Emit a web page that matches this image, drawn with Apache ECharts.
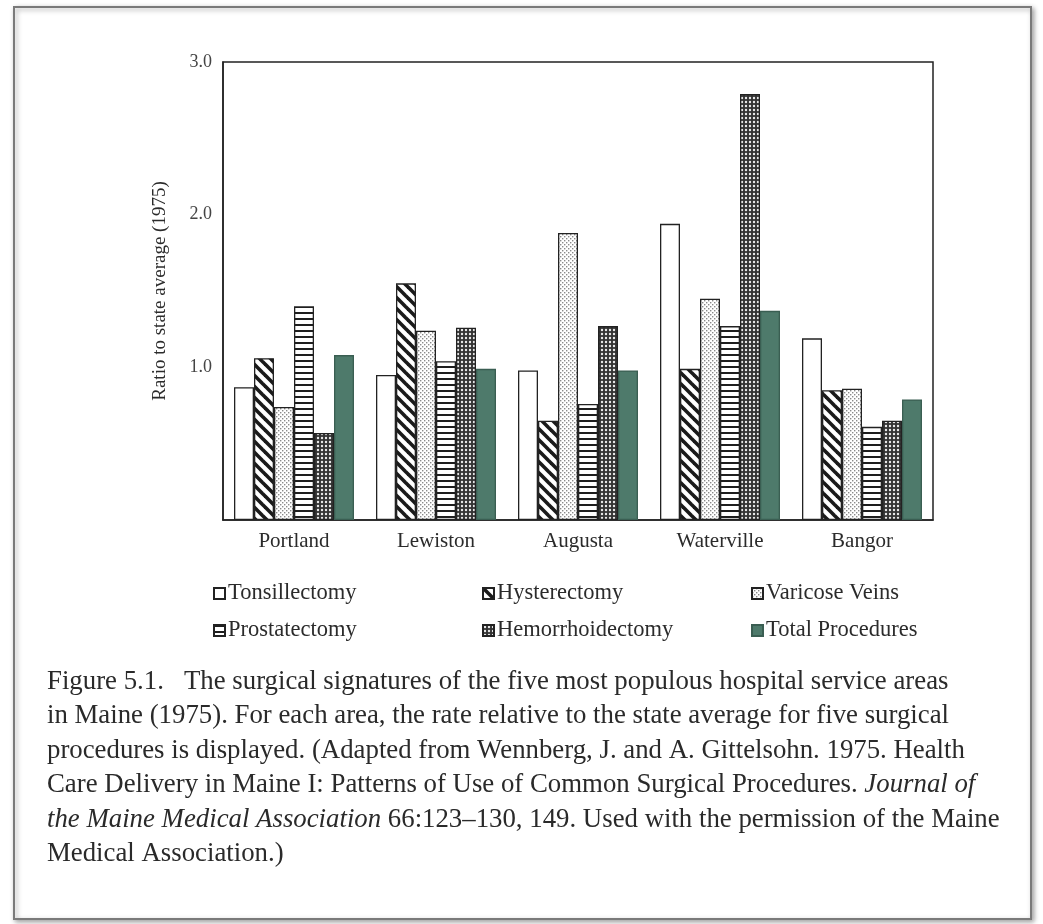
<!DOCTYPE html>
<html>
<head>
<meta charset="utf-8">
<script src="https://cdn.jsdelivr.net/npm/echarts@6/dist/echarts.min.js"></script>
<style>
html,body{margin:0;padding:0;background:#fff;}
#chart{width:1043px;height:924px;}
</style>
</head>
<body>
<div id="chart"></div>
<script>
// ---- Data ----
const categories = ['Portland', 'Lewiston', 'Augusta', 'Waterville', 'Bangor'];
const seriesNames = ['Tonsillectomy', 'Hysterectomy', 'Varicose Veins', 'Prostatectomy', 'Hemorrhoidectomy', 'Total Procedures'];
const tonsillectomy    = [0.87, 0.95, 0.98, 1.94, 1.19];
const hysterectomy     = [1.06, 1.55, 0.65, 0.99, 0.85];
const varicoseVeins    = [0.74, 1.24, 1.88, 1.45, 0.86];
const prostatectomy    = [1.40, 1.04, 0.76, 1.27, 0.61];
const hemorrhoidectomy = [0.57, 1.26, 1.27, 2.79, 0.65];
const totalProcedures  = [1.08, 0.99, 0.98, 1.37, 0.79];
const yTicks = [0, 1, 2, 3];
const yAxisTitle = 'Ratio to state average (1975)';
const captionLines = [
  'Figure 5.1.   The surgical signatures of the five most populous hospital service areas',
  'in Maine (1975). For each area, the rate relative to the state average for five surgical',
  'procedures is displayed. (Adapted from Wennberg, J. and A. Gittelsohn. 1975. Health',
  'Care Delivery in Maine I: Patterns of Use of Common Surgical Procedures. {i|Journal of}',
  '{i|the Maine Medical Association} 66:123–130, 149. Used with the permission of the Maine',
  'Medical Association.)'
];

// ---- Patterns ----
function makeTile(w, h, draw) {
  const c = document.createElement('canvas');
  c.width = w; c.height = h;
  const ctx = c.getContext('2d');
  ctx.fillStyle = '#fff';
  ctx.fillRect(0, 0, w, h);
  draw(ctx, w, h);
  return c;
}
const pWhite = '#ffffff';
const pDiag = makeTile(11, 11, (ctx, w) => {
  ctx.strokeStyle = '#1a1a1a'; ctx.lineWidth = 3.6;
  for (let k = -1; k <= 1; k++) {
    ctx.beginPath(); ctx.moveTo(k * w - 2, -2); ctx.lineTo(k * w + w + 2, w + 2); ctx.stroke();
  }
});
const pDots = makeTile(4, 4, (ctx) => {
  ctx.fillStyle = '#8a8a8a';
  ctx.fillRect(0, 0, 1.4, 1.4);
  ctx.fillRect(2, 2, 1.4, 1.4);
});
const pHoriz = makeTile(6, 6, (ctx) => {
  ctx.fillStyle = '#1e1e1e';
  ctx.fillRect(0, 0, 6, 2);
});
const pCheck = makeTile(4, 4, (ctx) => {
  ctx.fillStyle = '#333';
  ctx.fillRect(0, 0, 4, 4);
  ctx.fillStyle = '#eaeaea';
  ctx.beginPath(); ctx.arc(2, 2, 1.2, 0, Math.PI * 2); ctx.fill();
});
const fills = [
  pWhite,
  {image: pDiag, repeat: 'repeat'},
  {image: pDots, repeat: 'repeat'},
  {image: pHoriz, repeat: 'repeat'},
  {image: pCheck, repeat: 'repeat'},
  '#4e7a6b'
];
const values = [tonsillectomy, hysterectomy, varicoseVeins, prostatectomy, hemorrhoidectomy, totalProcedures];

const serif = '"Liberation Serif", "DejaVu Serif", serif';
const textColor = '#2b2b2b';

const chart = echarts.init(document.getElementById('chart'), null, {renderer: 'canvas'});

const series = seriesNames.map((name, i) => ({
  name: name,
  type: 'bar',
  data: values[i],
  barWidth: 20,
  barGap: '0%',
  itemStyle: {
    color: fills[i],
    borderColor: i === 5 ? '#3a5e52' : '#222',
    borderWidth: 1.3
  },
  emphasis: {disabled: true}
}));

function legendCol(left, names) {
  return {
    orient: 'vertical',
    left: left,
    top: 582,
    padding: 0,
    itemWidth: 11,
    itemHeight: 11,
    itemGap: 14,
    icon: 'rect',
    selectedMode: false,
    data: names,
    textStyle: {fontFamily: serif, fontSize: 22.5, color: textColor, padding: [0, 0, 0, -2]}
  };
}

const graphics = [
  {
    type: 'rect', left: 13, top: 6, z: -10, silent: true,
    shape: {width: 1017, height: 912},
    style: {fill: '#fff', stroke: '#7a7a7a', lineWidth: 2,
      shadowBlur: 5, shadowOffsetX: 2, shadowOffsetY: 2, shadowColor: 'rgba(0,0,0,0.35)'}
  }
];
captionLines.forEach((line, i) => {
  graphics.push({
    type: 'text', left: 47, top: 668 + i * 34.5, silent: true,
    style: {
      text: line,
      font: '26.8px ' + serif,
      fill: '#2a2a2a',
      rich: {i: {fontStyle: 'italic', fontSize: 26.8, fontFamily: serif, fill: '#2a2a2a'}}
    }
  });
});

chart.setOption({
  backgroundColor: '#ffffff',
  animation: false,
  grid: {left: 223, top: 62, width: 710, height: 458, show: true, borderColor: '#222', borderWidth: 1.5},
  legend: [
    legendCol(213, [seriesNames[0], seriesNames[3]]),
    legendCol(482, [seriesNames[1], seriesNames[4]]),
    legendCol(751, [seriesNames[2], seriesNames[5]])
  ],
  xAxis: {
    type: 'category',
    data: categories,
    axisLine: {show: true, lineStyle: {color: '#222', width: 1.5}},
    axisTick: {show: false},
    axisLabel: {fontFamily: serif, fontSize: 21, color: textColor, margin: 11}
  },
  yAxis: {
    type: 'value',
    min: yTicks[0],
    max: yTicks[yTicks.length - 1],
    interval: 1,
    name: yAxisTitle,
    nameLocation: 'middle',
    nameGap: 53,
    nameRotate: 90,
    nameTextStyle: {fontFamily: serif, fontSize: 19, color: textColor},
    axisLine: {show: true, lineStyle: {color: '#222', width: 1.5}},
    axisTick: {show: false},
    splitLine: {show: false},
    axisLabel: {
      fontFamily: serif, fontSize: 18, color: '#444', margin: 11,
      formatter: v => (v === 0 ? '' : v.toFixed(1))
    }
  },
  series: series,
  graphic: graphics
});
</script>
</body>
</html>
